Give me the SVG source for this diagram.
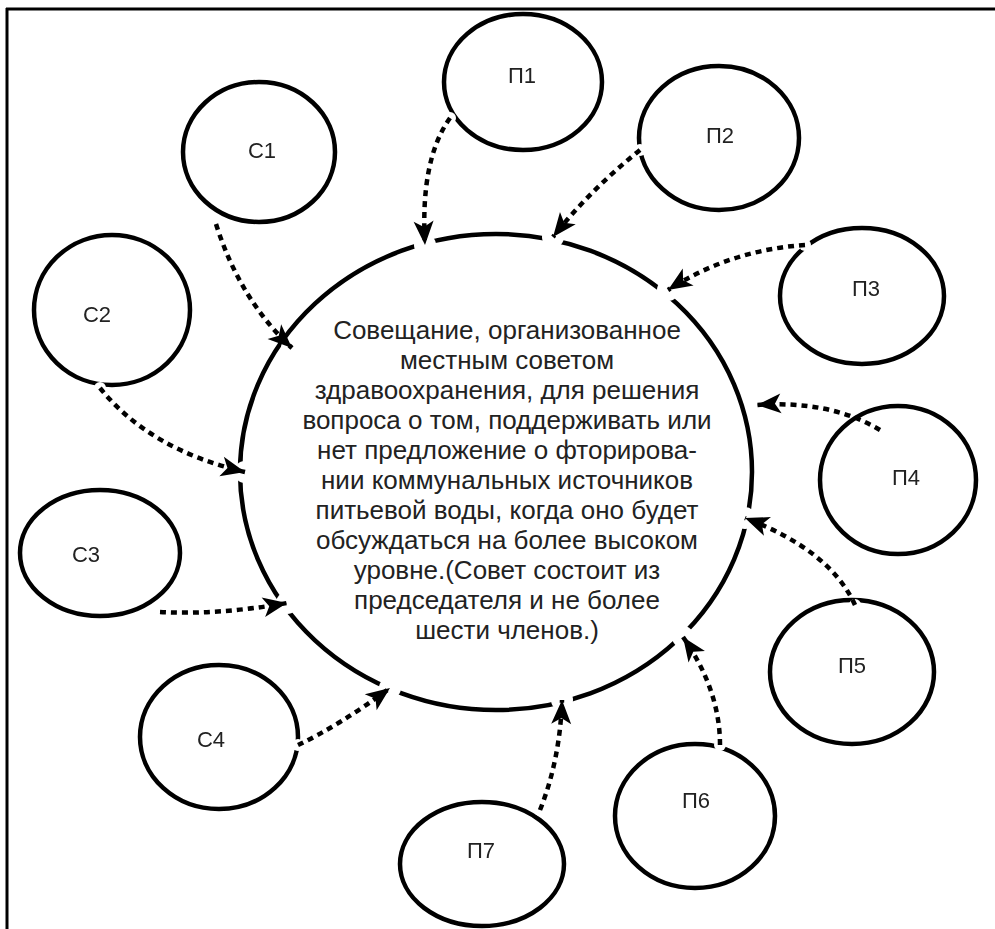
<svg xmlns="http://www.w3.org/2000/svg" width="995" height="929" viewBox="0 0 995 929">
<style>
.node{fill:none;stroke:#000;stroke-width:4.5}
.lbl{font-family:"Liberation Sans",Arial,sans-serif;font-size:22px;fill:#222;text-anchor:middle}
.main{font-family:"Liberation Sans",Arial,sans-serif;font-size:26px;fill:#222;text-anchor:middle}
.conn{fill:none;stroke:#000;stroke-width:4.5;stroke-dasharray:6 5;marker-end:url(#ah)}
</style>
<defs>
<marker id="ah" markerUnits="userSpaceOnUse" markerWidth="26" markerHeight="22" refX="24" refY="10" orient="auto" overflow="visible">
<path d="M0,0 L24,10 L0,20 L6,10 z" fill="#000"/>
</marker>
<mask id="mBig" maskUnits="userSpaceOnUse" x="0" y="0" width="995" height="929">
<rect width="995" height="929" fill="#fff"/>
<g fill="#000">
<circle cx="292" cy="348" r="11"/><circle cx="245" cy="472" r="11"/><circle cx="287" cy="603" r="11"/><circle cx="390" cy="688" r="11"/>
<circle cx="425" cy="245" r="11"/><circle cx="553" cy="237" r="11"/><circle cx="668" cy="290" r="11"/><circle cx="757" cy="405" r="11"/>
<circle cx="745" cy="518" r="11"/><circle cx="683" cy="637" r="11"/><circle cx="562" cy="700" r="11"/>
</g>
</mask>
<mask id="mSmall" maskUnits="userSpaceOnUse" x="0" y="0" width="995" height="929">
<rect width="995" height="929" fill="#fff"/>
<g fill="#000">
<circle cx="216" cy="224" r="6"/><circle cx="100" cy="388" r="6"/><circle cx="160" cy="612" r="6"/><circle cx="298" cy="745" r="6"/>
<circle cx="450" cy="118" r="6"/><circle cx="640" cy="150" r="6"/><circle cx="805" cy="245" r="6"/><circle cx="880" cy="430" r="6"/>
<circle cx="855" cy="605" r="6"/><circle cx="720" cy="745" r="6"/><circle cx="540" cy="810" r="6"/>
</g>
</mask>
</defs>
<rect width="995" height="929" fill="#fff"/>
<g id="frame" stroke="#000" stroke-width="3">
<line x1="6" y1="9" x2="995" y2="9"/>
<line x1="7" y1="8" x2="7" y2="929"/>
</g>
<g id="center" mask="url(#mBig)">
<ellipse class="node" cx="496" cy="472" rx="256" ry="238"/>
</g>
<g id="centerText">
<text class="main" x="507" y="339">Совещание, организованное</text>
<text class="main" x="507" y="369">местным советом</text>
<text class="main" x="507" y="399">здравоохранения, для решения</text>
<text class="main" x="507" y="429">вопроса о том, поддерживать или</text>
<text class="main" x="507" y="459">нет предложение о фторирова-</text>
<text class="main" x="507" y="489">нии коммунальных источников</text>
<text class="main" x="507" y="519">питьевой воды, когда оно будет</text>
<text class="main" x="507" y="549">обсуждаться на более высоком</text>
<text class="main" x="507" y="579">уровне.(Совет состоит из</text>
<text class="main" x="507" y="609">председателя и не более</text>
<text class="main" x="507" y="639">шести членов.)</text>
</g>
<g mask="url(#mSmall)">
<g id="C1"><ellipse class="node" cx="259" cy="152" rx="76" ry="70"/><text class="lbl" x="262" y="158">С1</text></g>
<g id="C2"><ellipse class="node" cx="112" cy="310" rx="78" ry="75"/><text class="lbl" x="97" y="322">С2</text></g>
<g id="C3"><ellipse class="node" cx="100" cy="553" rx="80" ry="63"/><text class="lbl" x="86" y="562">С3</text></g>
<g id="C4"><ellipse class="node" cx="219" cy="737" rx="79" ry="72"/><text class="lbl" x="211" y="747">С4</text></g>
<g id="P1"><ellipse class="node" cx="523" cy="82" rx="79" ry="68"/><text class="lbl" x="522" y="83">П1</text></g>
<g id="P2"><ellipse class="node" cx="719" cy="138" rx="80" ry="72"/><text class="lbl" x="720" y="143">П2</text></g>
<g id="P3"><ellipse class="node" cx="862" cy="296" rx="82" ry="68"/><text class="lbl" x="866" y="296">П3</text></g>
<g id="P4"><ellipse class="node" cx="898" cy="480" rx="78" ry="74"/><text class="lbl" x="906" y="485">П4</text></g>
<g id="P5"><ellipse class="node" cx="852" cy="672" rx="82" ry="72"/><text class="lbl" x="852" y="673">П5</text></g>
<g id="P6"><ellipse class="node" cx="695" cy="816" rx="80" ry="72"/><text class="lbl" x="696" y="808">П6</text></g>
<g id="P7"><ellipse class="node" cx="482" cy="864" rx="82" ry="62"/><text class="lbl" x="481" y="858">П7</text></g>
</g>
<g id="connectors">
<path class="conn" d="M216,224 Q240,300 292,348"/>
<path class="conn" d="M100,388 Q150,450 245,472"/>
<path class="conn" d="M160,612 Q220,615 287,603"/>
<path class="conn" d="M298,745 Q340,725 390,688"/>
<path class="conn" d="M450,118 Q420,160 425,245"/>
<path class="conn" d="M640,150 Q590,190 553,237"/>
<path class="conn" d="M805,245 Q730,250 668,290"/>
<path class="conn" d="M880,430 Q830,400 757,405"/>
<path class="conn" d="M855,605 Q830,550 745,518"/>
<path class="conn" d="M720,745 Q720,690 683,637"/>
<path class="conn" d="M540,810 Q560,760 562,700"/>
</g>
</svg>
